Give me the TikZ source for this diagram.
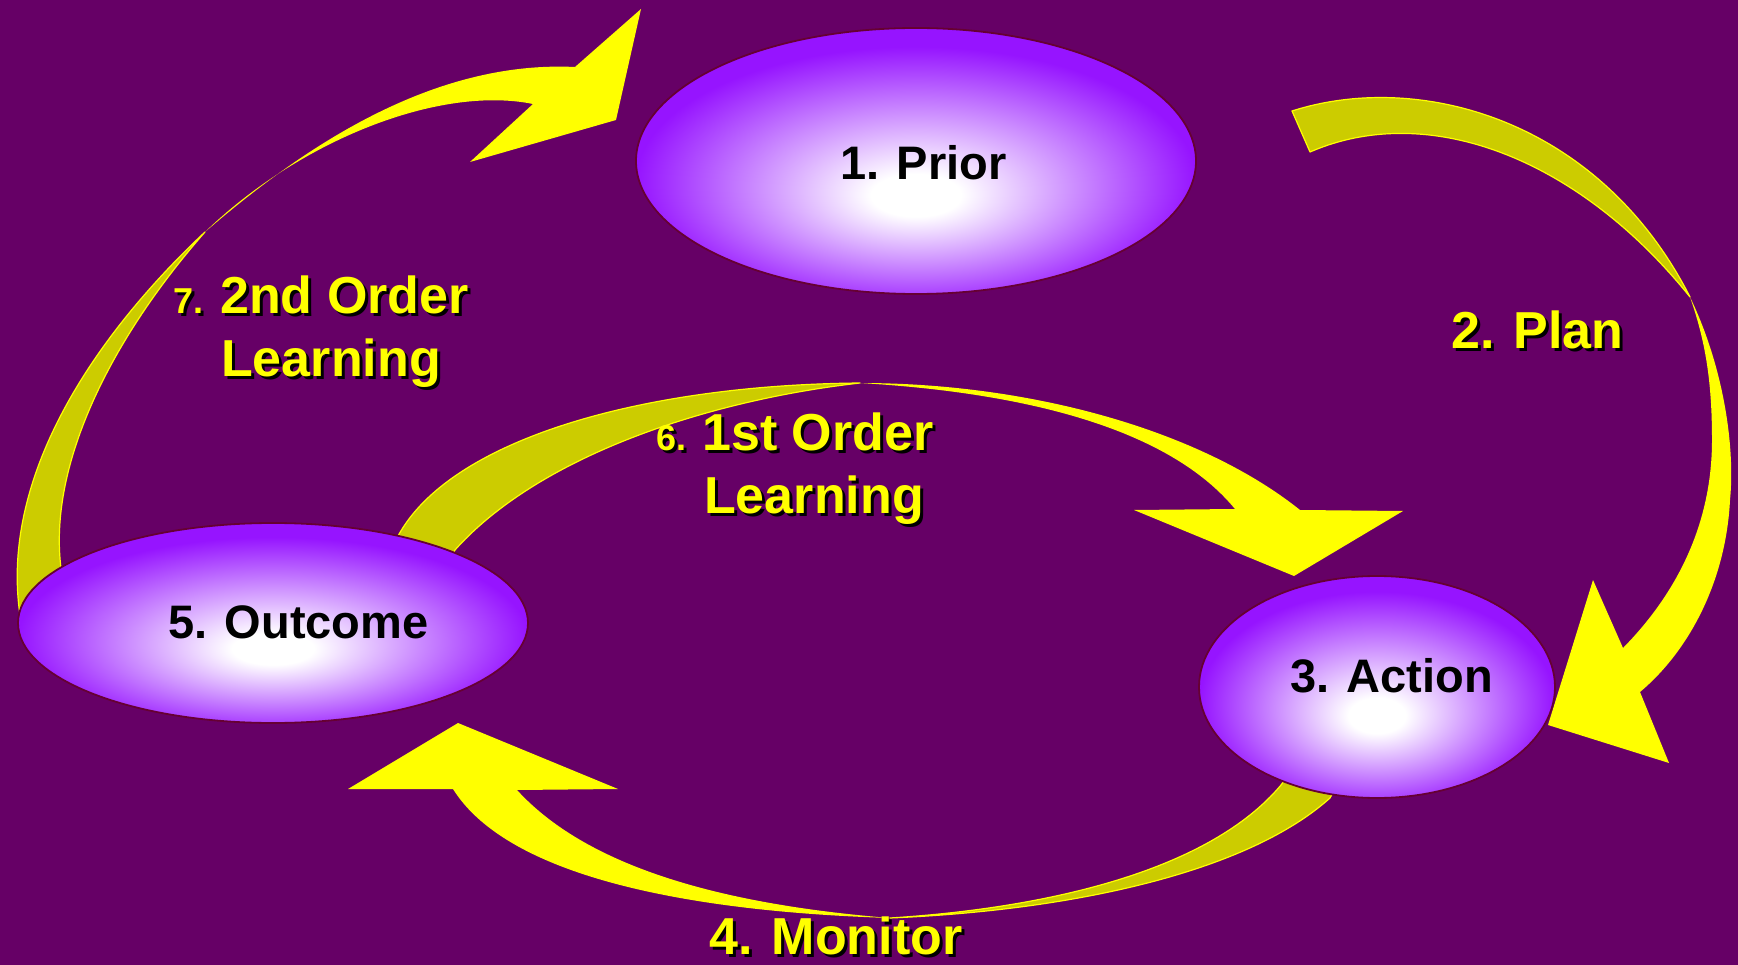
\documentclass[tikz,border=0pt]{standalone}
\usepackage{fontspec}
\setmainfont{Liberation Sans}
\usetikzlibrary{shapes.geometric}
\definecolor{bgpurple}{HTML}{660066}
\definecolor{ellpurple}{RGB}{150,20,255}
\definecolor{ellborder}{HTML}{660033}
\definecolor{backolive}{HTML}{CCCC00}
\definecolor{ayellow}{HTML}{FFFF00}
\pgfdeclareradialshading{ellshade}{\pgfpoint{0bp}{-7bp}}{color(0bp)=(white); color(4bp)=(white); color(25bp)=(ellpurple); color(50bp)=(ellpurple)}
\newcommand{\shtext}[1]{\rlap{\kern3pt\raisebox{-3pt}{\color{black}#1}}#1}
\begin{document}
\begin{tikzpicture}[x=1pt,y=-1pt,
  backface/.style={fill=backolive, draw=ayellow, line width=1.2pt, line join=round},
  frontface/.style={fill=ayellow},
  stage/.style={ellipse, draw=ellborder, line width=1.8pt, shading=ellshade, inner sep=0pt},
  lbl/.style={anchor=base west, inner sep=0pt, text=ayellow, font=\fontsize{52}{60}\selectfont\bfseries},
  elbl/.style={anchor=base west, inner sep=0pt, text=black, font=\fontsize{47}{54}\selectfont\bfseries},
  smallnum/.style={lbl, font=\fontsize{36}{42}\selectfont\bfseries}]
\useasboundingbox (0,0) rectangle (1738,965);
\fill[bgpurple] (0,0) rectangle (1738,965);

% 7. 2nd order learning arrow
\path[backface] (20,615) .. controls (0,480) and (90,340) .. (205,232)
  .. controls (110,340) and (45,470) .. (62,575) -- (75,590) -- (30,618) -- cycle;
\path[frontface] (205,232) .. controls (300,150) and (430,60) .. (575,67)
  -- (641,9) -- (616,120) -- (470,162) -- (533,104)
  .. controls (440,85) and (300,140) .. (205,232) -- cycle;

% 2. Plan arrow
\path[backface] (1292,111) .. controls (1420,70) and (1600,120) .. (1690,297)
  .. controls (1580,160) and (1430,100) .. (1310,152) -- cycle;
\path[frontface] (1690,297) .. controls (1725,370) and (1735,450) .. (1730,500)
  .. controls (1726,580) and (1690,650) .. (1640,692)
  -- (1669,763) -- (1548,725) -- (1593,580) -- (1623,648)
  .. controls (1680,590) and (1712,520) .. (1712,440)
  .. controls (1712,380) and (1705,340) .. (1690,297) -- cycle;

% 6. 1st order learning arrow
\path[backface] (398,536) .. controls (450,440) and (640,385) .. (860,383)
  .. controls (710,400) and (540,455) .. (455,550) -- (440,575) -- (390,560) -- cycle;
\path[frontface] (860,383) .. controls (1030,383) and (1200,430) .. (1300,510)
  -- (1403,511) -- (1294,576) -- (1134,510) -- (1235,509)
  .. controls (1170,430) and (1030,393) .. (860,383) -- cycle;

% 4. Monitor arrow
\path[backface] (1330,798) .. controls (1250,870) and (1080,910) .. (890,918)
  .. controls (1050,908) and (1210,870) .. (1281,785) -- (1300,760) -- (1345,770) -- cycle;
\path[frontface] (890,918) .. controls (700,912) and (510,880) .. (453,789)
  -- (348,789) -- (458,723) -- (618,789) -- (517,790)
  .. controls (590,870) and (730,905) .. (890,918) -- cycle;

% stages
\node[stage, minimum width=560pt, minimum height=266pt] (prior) at (916,161) {};
\node[stage, minimum width=510pt, minimum height=200pt] (outcome) at (273,623) {};
\node[stage, minimum width=356pt, minimum height=222pt] (action) at (1377,687) {};

\node[elbl] (tprior) at (840,180) {1. Prior};
\node[elbl] (taction) at (1290,692) {3. Action};
\node[elbl] (toutcome) at (168,638) {5. Outcome};

\node[lbl] (tplan) at (1451,349) {\shtext{2. Plan}};
\node[lbl] (tmonitor) at (709,954) {\shtext{4. Monitor}};
\node[smallnum] (n6) at (656,450) {\shtext{6.}};
\node[lbl] (t6a) at (702,450) {\shtext{1st Order}};
\node[lbl] (t6b) at (704,513) {\shtext{Learning}};
\node[smallnum] (n7) at (173,314) {\shtext{7.}};
\node[lbl] (t7a) at (220,314) {\shtext{2nd Order}};
\node[lbl] (t7b) at (221,377) {\shtext{Learning}};
\end{tikzpicture}
\end{document}
